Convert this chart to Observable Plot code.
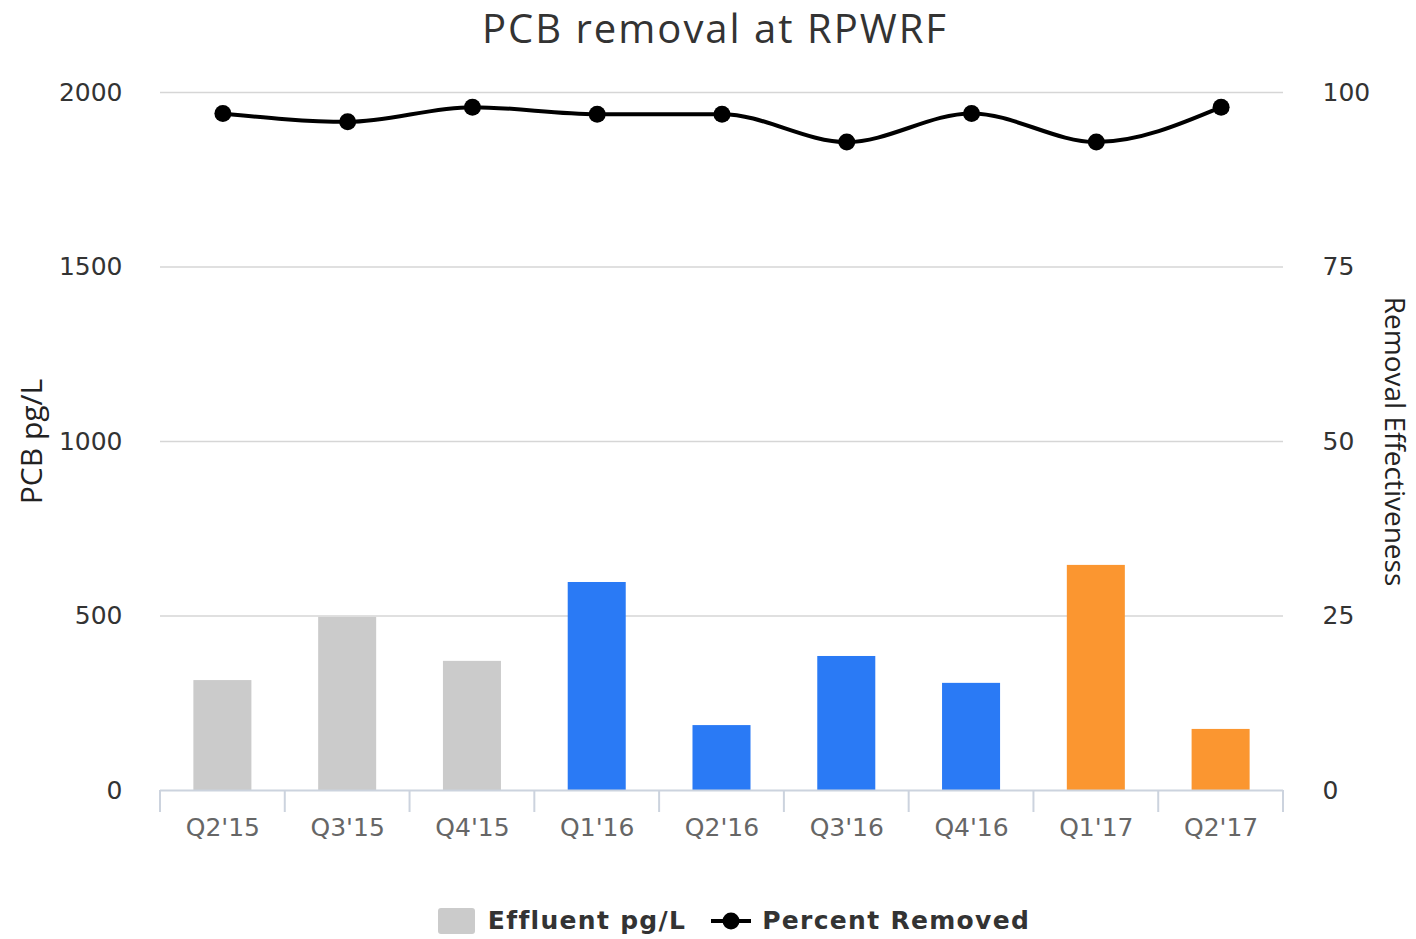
<!DOCTYPE html>
<html>
<head>
<meta charset="utf-8">
<script src="https://cdn.jsdelivr.net/npm/d3@7"></script>
<script src="https://cdn.jsdelivr.net/npm/@observablehq/plot@0.6"></script>
<style>
  html, body { margin: 0; padding: 0; background: #fff; }
  body { width: 1416px; height: 939px; overflow: hidden; }
  #title { height: 60px; line-height: 56px; text-align: center; padding-left: 14px; box-sizing: border-box; font-family: "Open Sans", sans-serif; font-size: 40px; letter-spacing: 2px; color: #333; }
  #legend { height: 37px; padding-top: 32px; padding-left: 52px; display: flex; justify-content: center; align-items: center; font-family: "DejaVu Sans", sans-serif; font-weight: bold; font-size: 25px; letter-spacing: 1.3px; color: #333; }
  .item { display: flex; align-items: center; }
  .sw { width: 37px; height: 26px; background: #cbcbcb; border-radius: 3px; margin-right: 13px; }
</style>
</head>
<body>
<div id="title">PCB removal at RPWRF</div>
<div id="chart"></div>
<div id="legend">
  <div class="item"><div class="sw"></div><span>Effluent pg/L</span></div>
  <div class="item" style="margin-left:24px"><svg width="42" height="22" style="margin-right:10px"><line x1="1" x2="41" y1="11" y2="11" stroke="#000" stroke-width="4"/><circle cx="21" cy="11" r="8.5" fill="#000"/></svg><span>Percent Removed</span></div>
</div>
<script>
const categories = ["Q2'15", "Q3'15", "Q4'15", "Q1'16", "Q2'16", "Q3'16", "Q4'16", "Q1'17", "Q2'17"];
const groups = ["2015", "2015", "2015", "2016", "2016", "2016", "2016", "2017", "2017"];
const effluent = [315, 496, 370, 596, 186, 384, 307, 645, 175];
const percentRemoved = [97.0, 95.8, 97.9, 96.9, 96.9, 92.9, 97.0, 92.9, 97.9];
const leftTicks = [0, 500, 1000, 1500, 2000];
const rightTicks = [0, 25, 50, 75, 100];
const groupColors = ["#cbcbcb", "#2a7af5", "#fb9630"];
const ratio = 2000 / 100;

const data = categories.map((q, i) => ({q, g: groups[i], eff: effluent[i], pct: percentRemoved[i]}));

const chart = Plot.plot({
  width: 1416,
  height: 810,
  marginLeft: 160,
  marginRight: 133,
  marginTop: 32,
  marginBottom: 80,
  style: {fontFamily: "DejaVu Sans, sans-serif", fontSize: "25px", color: "#333", background: "#fff"},
  x: {domain: categories, paddingInner: 0.535, paddingOuter: 0.2675, round: false},
  y: {domain: [0, 2000]},
  color: {domain: ["2015", "2016", "2017"], range: groupColors},
  marks: [
    Plot.ruleY(leftTicks.filter(d => d > 0), {stroke: "#d6d6d6", strokeWidth: 1.5}),
    Plot.barY(data, {x: "q", y: "eff", fill: "g"}),
    Plot.ruleY([0], {stroke: "#ccd3de", strokeWidth: 2}),
    Plot.line(data, {x: "q", y: d => d.pct * ratio, curve: "monotone-x", stroke: "#000", strokeWidth: 4}),
    Plot.dot(data, {x: "q", y: d => d.pct * ratio, r: 8.5, fill: "#000"}),
    Plot.axisX({tickSize: 0, tickPadding: 28, label: null, fill: "#666", fontSize: 25}),
    Plot.axisY(leftTicks, {anchor: "left", tickSize: 0, tickPadding: 38, label: null, fill: "#333", tickFormat: d => String(d)}),
    Plot.axisY(rightTicks.map(d => d * ratio), {anchor: "right", tickSize: 0, tickPadding: 39, label: null, fill: "#333", tickFormat: d => String(d / ratio)}),
    Plot.text(["PCB pg/L"], {frameAnchor: "left", dx: -128, rotate: -90, textAnchor: "middle", fontSize: 30, fontFamily: "Open Sans, sans-serif", fill: "#222"}),
    Plot.text(["Removal Effectiveness"], {frameAnchor: "right", dx: 110, rotate: 90, textAnchor: "middle", fontSize: 28, fontFamily: "Open Sans, sans-serif", fill: "#222"})
  ]
});
document.getElementById("chart").appendChild(chart);

// category boundary ticks drawn from the library's x scale
const xs = chart.scale("x");
const ys = chart.scale("y");
const step = (xs.range[1] - xs.range[0]) / categories.length;
const y0 = ys.apply(0);
const edges = categories.map(c => xs.apply(c) + xs.bandwidth / 2 - step / 2);
edges.push(xs.apply(categories[categories.length - 1]) + xs.bandwidth / 2 + step / 2);
const svg = d3.select(chart);
svg.append("g").selectAll("line").data(edges).join("line")
  .attr("x1", d => d).attr("x2", d => d)
  .attr("y1", y0).attr("y2", y0 + 22)
  .attr("stroke", "#ccd3de").attr("stroke-width", 2);
</script>
</body>
</html>
